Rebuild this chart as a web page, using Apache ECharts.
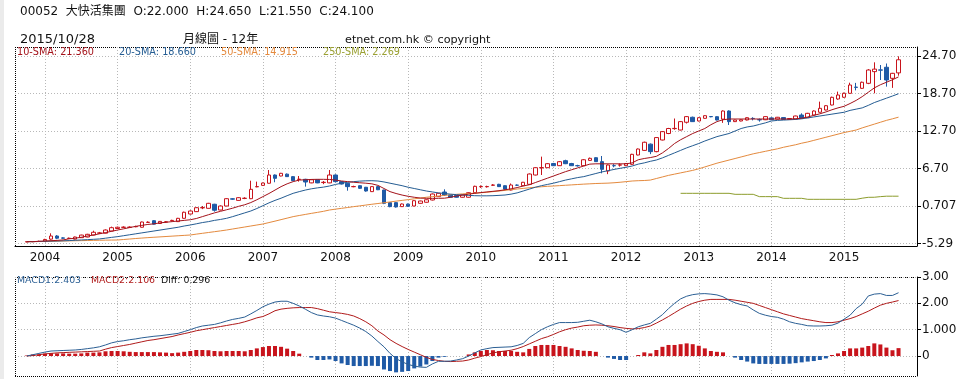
<!DOCTYPE html>
<html><head><meta charset="utf-8">
<script src="https://cdn.jsdelivr.net/npm/echarts@6/dist/echarts.min.js"></script>
<style>html,body{margin:0;padding:0;background:#fff;}#c{width:970px;height:379px;}</style>
</head><body><div id="c"></div>
<script>
// ---- data (monthly, 2003/10 .. 2015/10; index 0 = 2003/10) ----
const openP = [-5.05,-5.0,-4.98,-4.9,-4.6,-4.1,-4.4,-4.5,-4.6,-4.37,
-4.26,-3.94,-3.65,-3.65,-3.3,-2.9,-2.72,-2.72,-2.62,-2.7,
-1.93,-1.65,-2.1,-1.87,-1.65,-1.8,-1.27,-0.58,-0.2,0.4,
0.33,0.98,0.06,0.7,1.85,1.6,1.91,1.87,3.77,4.0,
4.34,5.66,5.5,5.8,5.4,4.95,4.97,4.4,4.9,4.45,
4.4,5.66,4.6,4.34,3.78,3.95,3.7,3.0,3.8,3.26,
1.24,1.24,0.6,1.0,0.7,1.13,1.3,1.66,2.2,2.94,
2.46,2.4,2.1,2.1,2.83,3.78,3.78,4.02,4.17,3.95,
3.26,4.04,3.95,4.17,5.66,6.8,6.83,7.5,7.15,7.95,
7.5,7.16,7.15,8.0,8.43,7.8,6.3,7.16,7.24,7.15,
7.37,8.86,9.6,10.6,9.4,11.26,12.3,13.08,12.86,14.1,
14.9,14.3,14.73,15.02,14.99,14.6,15.9,14.2,14.3,14.46,
14.72,14.52,14.5,14.8,14.6,14.85,14.55,14.62,15.26,14.83,
15.26,15.7,16.06,16.86,17.82,18.1,18.73,19.72,19.53,20.33,
22.2,22.48,22.9,21.13,22.0];
const closeP = [-5.0,-4.98,-4.95,-4.65,-4.1,-4.45,-4.45,-4.45,-4.26,-3.95,
-3.83,-3.5,-3.6,-3.14,-2.77,-2.7,-2.68,-2.68,-2.58,-1.86,
-1.89,-2.2,-1.76,-1.83,-1.6,-1.27,-0.3,-0.1,0.43,0.45,
1.13,0.02,0.7,1.87,1.8,2.03,1.95,3.37,3.81,4.38,
5.66,5.13,5.93,5.4,4.75,4.99,4.54,4.9,4.4,4.5,
5.66,4.6,4.22,3.8,3.82,3.53,3.1,3.8,3.3,1.13,
0.6,0.55,1.02,0.65,1.55,1.5,1.7,2.62,2.73,2.46,
2.1,2.1,2.5,2.83,3.85,3.82,3.82,4.06,3.8,3.4,
4.06,4.02,4.5,5.82,6.83,6.85,7.47,7.15,7.79,7.47,
7.15,7.14,8.1,8.33,7.8,6.57,7.26,7.14,7.28,7.5,
8.97,9.82,10.9,9.4,11.65,12.6,13.1,13.12,14.2,15.0,
14.2,14.83,15.15,14.98,14.46,15.9,14.2,14.46,14.5,14.83,
14.68,14.48,15.0,14.5,14.9,14.55,14.7,15.1,14.73,15.53,
15.9,16.33,16.75,18.09,18.46,18.73,20.06,19.68,20.5,22.46,
22.6,22.44,20.86,21.93,24.1];
const lowP = [-5.1,-5.08,-5.05,-4.95,-4.7,-4.6,-4.55,-4.55,-4.65,-4.4,
-4.3,-4.0,-3.75,-3.7,-3.35,-2.95,-2.8,-2.8,-2.7,-2.75,
-2.0,-2.25,-2.15,-1.95,-1.75,-1.85,-1.3,-0.65,-0.25,0.2,
0.3,-0.2,0.0,0.65,1.7,1.55,1.8,1.8,3.7,3.95,
4.3,4.5,5.45,5.35,4.7,4.6,3.8,4.35,4.35,4.2,
4.35,4.5,4.15,3.15,3.7,3.45,3.0,2.95,3.25,1.0,
0.5,0.45,0.55,0.6,0.65,1.1,1.25,1.6,2.15,2.3,
2.05,2.05,2.05,2.05,2.75,3.6,3.65,3.9,3.75,3.35,
3.2,3.9,3.9,4.1,5.6,5.66,6.8,7.1,7.1,7.4,
7.1,7.0,7.1,7.95,7.75,5.93,5.8,6.9,7.0,7.1,
7.3,8.8,9.55,9.0,9.3,11.2,12.2,12.9,12.8,13.9,
14.15,14.25,14.7,14.9,14.4,14.0,13.66,14.15,14.25,14.4,
14.4,14.2,14.45,14.45,14.55,14.5,14.5,14.55,14.7,14.8,
15.2,15.65,16.0,16.8,17.7,18.0,18.7,19.2,19.45,20.2,
18.73,20.86,19.8,19.6,21.55];
const highP = [-4.95,-4.9,-4.85,-4.55,-3.67,-3.95,-4.3,-4.35,-4.2,-3.9,
-3.75,-3.25,-3.45,-3.05,-2.6,-2.6,-2.55,-2.55,-2.45,-1.8,
-1.75,-1.55,-1.7,-1.7,-1.5,-1.2,-0.2,0.0,0.5,0.7,
1.2,1.05,0.8,1.95,1.95,2.1,2.1,4.75,4.6,4.45,
6.46,5.75,6.0,5.9,5.5,5.5,5.05,5.0,4.95,4.7,
6.46,5.75,4.65,4.4,3.95,4.0,3.75,3.85,3.9,3.3,
1.3,1.3,1.1,1.1,1.6,1.55,1.75,2.7,2.8,3.37,
2.5,2.45,2.55,2.9,3.95,4.0,3.95,4.2,4.25,4.0,
4.3,4.15,4.55,5.9,6.9,8.6,7.55,7.6,7.9,8.1,
7.6,7.3,8.2,8.45,8.5,8.7,7.35,7.4,7.5,7.55,
9.05,9.9,11.0,10.7,11.7,12.7,13.2,14.7,14.3,15.1,
15.0,14.9,15.2,15.1,15.05,16.0,16.0,14.5,14.55,14.9,
14.9,14.7,15.05,14.9,14.95,14.9,14.75,15.15,15.53,15.6,
16.0,17.4,16.85,18.2,19.0,18.85,20.43,20.4,20.6,22.6,
23.69,23.26,23.5,22.0,24.65];
const sma10 = [-5.0,-5.0,-4.95,-4.9,-4.85,-4.8,-4.72,-4.55,-4.45,-4.3,
-4.1,-3.95,-3.75,-3.55,-3.35,-3.14,-2.95,-2.75,-2.55,-2.4,
-2.25,-2.15,-2.0,-1.9,-1.8,-1.7,-1.6,-1.5,-1.3,-1.0,
-0.7,-0.4,-0.15,0.1,0.35,0.65,0.9,1.25,1.7,2.2,
2.7,3.25,3.8,4.25,4.6,4.85,4.9,4.95,4.97,4.97,
4.95,4.85,4.7,4.6,4.5,4.42,4.35,4.25,4.0,3.5,
3.0,2.7,2.45,2.25,2.1,1.97,1.93,1.92,1.93,1.95,
2.1,2.3,2.45,2.6,2.73,2.85,2.95,3.05,3.15,3.3,
3.45,3.65,3.9,4.1,4.45,4.8,5.15,5.5,5.85,6.2,
6.5,6.8,7.1,7.4,7.45,7.45,7.45,7.45,7.45,7.45,
7.6,8.1,8.3,8.45,8.65,9.2,9.9,10.7,11.3,11.8,
12.3,12.7,13.1,13.7,14.2,14.5,14.62,14.62,14.62,14.62,
14.62,14.62,14.62,14.62,14.62,14.62,14.62,14.65,14.75,14.95,
15.2,15.45,15.75,16.1,16.4,16.65,17.1,17.6,18.2,18.9,
19.6,20.1,20.5,20.9,21.36];
const sma20 = [-5.0,-5.0,-4.98,-4.95,-4.92,-4.9,-4.87,-4.83,-4.78,-4.73,
-4.68,-4.63,-4.57,-4.45,-4.32,-4.2,-4.05,-3.9,-3.75,-3.6,
-3.45,-3.3,-3.15,-3.0,-2.85,-2.7,-2.5,-2.34,-2.15,-1.95,
-1.8,-1.6,-1.45,-1.27,-1.0,-0.7,-0.4,-0.1,0.3,0.75,
1.2,1.6,1.95,2.35,2.73,3.0,3.25,3.45,3.6,3.72,
3.9,4.15,4.35,4.5,4.6,4.68,4.73,4.75,4.7,4.55,
4.35,4.15,3.95,3.7,3.5,3.3,3.1,2.95,2.8,2.7,
2.6,2.52,2.45,2.4,2.35,2.33,2.33,2.35,2.4,2.46,
2.6,2.8,3.1,3.4,3.7,3.95,4.15,4.35,4.6,4.85,
5.05,5.25,5.4,5.65,5.9,6.15,6.35,6.55,6.73,6.9,
7.1,7.4,7.6,7.85,8.06,8.4,8.8,9.2,9.6,10.0,
10.35,10.7,11.1,11.45,11.8,12.05,12.3,12.7,13.1,13.35,
13.5,13.75,14.0,14.3,14.4,14.45,14.5,14.55,14.65,14.8,
14.95,15.1,15.25,15.4,15.55,15.7,16.0,16.2,16.4,16.8,
17.25,17.6,17.95,18.3,18.66];
const sma50 = [-5.0,-5.0,-4.98,-4.97,-4.95,-4.93,-4.9,-4.88,-4.86,-4.84,
-4.82,-4.8,-4.78,-4.76,-4.75,-4.74,-4.66,-4.58,-4.5,-4.43,
-4.36,-4.3,-4.24,-4.18,-4.12,-4.06,-4.0,-3.94,-3.8,-3.67,
-3.54,-3.41,-3.28,-3.14,-2.98,-2.82,-2.66,-2.5,-2.34,-2.18,
-1.95,-1.72,-1.48,-1.24,-1.0,-0.82,-0.65,-0.48,-0.32,-0.15,
0.06,0.2,0.33,0.46,0.6,0.72,0.85,0.98,1.1,1.22,
1.35,1.48,1.6,1.72,1.85,1.97,2.1,2.2,2.3,2.4,
2.5,2.57,2.64,2.7,2.75,2.82,2.9,3.0,3.1,3.2,
3.32,3.42,3.52,3.62,3.7,3.78,3.85,3.9,3.96,4.02,
4.08,4.14,4.2,4.25,4.3,4.33,4.36,4.42,4.5,4.6,
4.7,4.75,4.78,4.85,5.1,5.35,5.6,5.8,6.0,6.2,
6.4,6.65,6.95,7.25,7.55,7.8,8.05,8.3,8.55,8.8,
9.05,9.25,9.45,9.65,9.85,10.1,10.3,10.5,10.75,10.95,
11.2,11.45,11.7,11.95,12.2,12.45,12.65,12.86,13.2,13.5,
13.8,14.1,14.4,14.65,14.915];
const sma250 = [null,null,null,null,null,null,null,null,null,null,
null,null,null,null,null,null,null,null,null,null,
null,null,null,null,null,null,null,null,null,null,
null,null,null,null,null,null,null,null,null,null,
null,null,null,null,null,null,null,null,null,null,
null,null,null,null,null,null,null,null,null,null,
null,null,null,null,null,null,null,null,null,null,
null,null,null,null,null,null,null,null,null,null,
null,null,null,null,null,null,null,null,null,null,
null,null,null,null,null,null,null,null,null,null,
null,null,null,null,null,null,null,null,2.73,2.73,
2.73,2.73,2.73,2.73,2.73,2.73,2.73,2.57,2.57,2.57,
2.57,2.2,2.2,2.2,2.2,1.93,1.93,1.93,1.93,1.77,
1.77,1.77,1.77,1.77,1.77,1.77,1.77,1.77,1.95,2.09,
2.1,2.2,2.27,2.27,2.27];
const macd1 = [0.0,0.05,0.1,0.15,0.19,0.2,0.21,0.22,0.23,0.25,
0.28,0.31,0.35,0.42,0.5,0.55,0.58,0.62,0.65,0.69,
0.72,0.75,0.77,0.8,0.83,0.86,0.93,1.0,1.08,1.14,
1.17,1.2,1.26,1.33,1.39,1.43,1.48,1.6,1.73,1.87,
1.97,2.05,2.08,2.08,2.0,1.9,1.78,1.65,1.56,1.52,
1.49,1.44,1.35,1.26,1.17,1.06,0.93,0.76,0.55,0.35,
0.1,-0.1,-0.22,-0.32,-0.38,-0.42,-0.43,-0.3,-0.2,-0.2,
-0.19,-0.15,-0.1,0.0,0.12,0.23,0.28,0.32,0.33,0.34,
0.35,0.4,0.48,0.7,0.85,1.0,1.11,1.2,1.27,1.27,
1.27,1.28,1.32,1.36,1.3,1.22,1.11,1.05,1.0,0.9,
1.0,1.11,1.18,1.24,1.4,1.57,1.8,2.0,2.17,2.27,
2.33,2.36,2.37,2.35,2.32,2.25,2.12,2.02,1.95,1.9,
1.75,1.62,1.55,1.5,1.47,1.4,1.3,1.24,1.2,1.15,
1.14,1.14,1.15,1.17,1.25,1.4,1.55,1.8,1.97,2.28,
2.35,2.37,2.3,2.3,2.403];
const macd2 = [0.0,0.02,0.05,0.08,0.1,0.12,0.13,0.14,0.15,0.16,
0.17,0.18,0.19,0.26,0.32,0.36,0.4,0.44,0.49,0.54,
0.59,0.62,0.66,0.7,0.74,0.8,0.85,0.9,0.96,1.0,
1.04,1.08,1.12,1.16,1.2,1.24,1.3,1.37,1.45,1.5,
1.6,1.72,1.78,1.81,1.83,1.84,1.84,1.84,1.8,1.74,
1.68,1.65,1.62,1.58,1.52,1.42,1.3,1.15,0.95,0.8,
0.62,0.48,0.36,0.25,0.15,0.05,-0.05,-0.13,-0.17,-0.2,
-0.21,-0.2,-0.19,-0.15,-0.08,-0.02,0.05,0.12,0.16,0.19,
0.22,0.28,0.36,0.46,0.56,0.66,0.73,0.82,0.92,1.0,
1.06,1.1,1.15,1.17,1.18,1.17,1.15,1.12,1.08,1.05,
1.03,1.04,1.08,1.14,1.25,1.37,1.5,1.64,1.78,1.9,
2.0,2.07,2.12,2.15,2.15,2.15,2.15,2.12,2.08,2.04,
2.0,1.92,1.84,1.76,1.68,1.6,1.54,1.48,1.42,1.38,
1.34,1.3,1.27,1.27,1.3,1.36,1.42,1.5,1.6,1.7,
1.82,1.93,2.0,2.05,2.106];
const macdDiff = [0.02,0.06,0.06,0.09,0.11,0.1,0.1,0.09,0.09,0.1,
0.13,0.13,0.14,0.18,0.19,0.19,0.18,0.16,0.15,0.15,
0.15,0.15,0.14,0.13,0.11,0.13,0.16,0.19,0.23,0.23,
0.22,0.19,0.18,0.19,0.19,0.19,0.18,0.23,0.29,0.34,
0.38,0.38,0.35,0.28,0.19,0.09,0.0,-0.06,-0.15,-0.15,
-0.13,-0.19,-0.28,-0.34,-0.38,-0.38,-0.38,-0.37,-0.38,-0.51,
-0.57,-0.62,-0.6,-0.57,-0.47,-0.4,-0.32,-0.19,-0.06,-0.03,
0.0,0.0,0.0,0.06,0.14,0.19,0.23,0.22,0.19,0.19,
0.19,0.16,0.14,0.27,0.38,0.42,0.42,0.42,0.38,0.35,
0.29,0.23,0.2,0.19,0.16,0.0,-0.06,-0.11,-0.15,-0.15,
0.0,0.04,0.14,0.1,0.23,0.35,0.42,0.42,0.45,0.48,
0.45,0.39,0.29,0.19,0.16,0.14,0.0,-0.06,-0.15,-0.21,
-0.28,-0.3,-0.3,-0.3,-0.3,-0.3,-0.29,-0.27,-0.24,-0.21,
-0.19,-0.15,-0.09,0.04,0.1,0.19,0.29,0.29,0.32,0.38,
0.48,0.44,0.32,0.22,0.3];
const yearTicks = [3,15,27,39,51,63,75,87,99,111,123,135];
const yearLabels = ['2004','2005','2006','2007','2008','2009','2010','2011','2012','2013','2014','2015'];
const priceTicks = [-5.29,0.707,6.70,12.70,18.70,24.70];
const priceTickLabels = ['-5.29','0.707','6.70','12.70','18.70','24.70'];
const macdTicks = [0,1,2,3];
const macdTickLabels = ['0','1.000','2.00','3.00'];

// ---- chart ----
const C_UP = '#c8141c', C_DN = '#1f5aa6';
const C10 = '#a3121a', C20 = '#245c92', C50 = '#e48a3e', C250 = '#8c9c2c';
const FONT = '"DejaVu Sans", "Noto Sans CJK TC", sans-serif';
function pick(ticks, labels){ return v => { for (let k=0;k<ticks.length;k++) if (Math.abs(ticks[k]-v)<1e-6) return labels[k]; return ''; }; }
const idx = openP.map((_, i) => i);
const pair = arr => idx.map(i => [i, arr[i]]);
const gridSplit = {show:true, lineStyle:{color:'#b8b8b8', type:[1,2], width:1}};

const chart = echarts.init(document.getElementById('c'), null, {renderer:'canvas'});
chart.setOption({
  animation:false,
  backgroundColor:'#ffffff',
  grid:[{left:15, top:47, width:902, height:199},{left:15, top:277, width:902, height:99}],
  xAxis:[
    {gridIndex:0, type:'value', min:-1.95, max:147.05,
     axisLine:{show:true, onZero:false, lineStyle:{color:'#000', width:1}},
     axisTick:{show:false, customValues:yearTicks},
     axisLabel:{customValues:yearTicks, formatter:pick(yearTicks, yearLabels), color:'#111', fontSize:12, fontFamily:FONT, margin:6},
     splitLine:gridSplit},
    {gridIndex:1, type:'value', min:-1.95, max:147.05,
     axisLine:{show:false, onZero:false}, axisTick:{show:false, customValues:yearTicks},
     axisLabel:{show:false, customValues:yearTicks}, splitLine:gridSplit}
  ],
  yAxis:[
    {gridIndex:0, type:'value', position:'right', min:-5.70, max:26.14,
     axisLine:{show:true, onZero:false, lineStyle:{color:'#000', width:1}},
     axisTick:{show:true, inside:false, length:4, customValues:priceTicks, lineStyle:{color:'#000'}},
     axisLabel:{customValues:priceTicks, formatter:pick(priceTicks, priceTickLabels), color:'#111', fontSize:12, fontFamily:FONT, margin:5},
     splitLine:gridSplit},
    {gridIndex:1, type:'value', position:'right', min:-0.758, max:3.0,
     axisLine:{show:true, onZero:false, lineStyle:{color:'#000', width:1}},
     axisTick:{show:true, inside:false, length:4, customValues:macdTicks, lineStyle:{color:'#000'}},
     axisLabel:{customValues:macdTicks, formatter:pick(macdTicks, macdTickLabels), color:'#111', fontSize:12, fontFamily:FONT, margin:5},
     splitLine:gridSplit}
  ],
  series:[
    {type:'candlestick', xAxisIndex:0, yAxisIndex:0, barWidth:4, large:false,
     data: idx.map(i => [i, openP[i], closeP[i], lowP[i], highP[i]]),
     itemStyle:{color:'#ffffff', color0:C_DN, borderColor:C_UP, borderColor0:C_DN, borderWidth:1}},
    {type:'line', xAxisIndex:0, yAxisIndex:0, data:pair(sma50), symbol:'none', lineStyle:{color:C50, width:1}},
    {type:'line', xAxisIndex:0, yAxisIndex:0, data:pair(sma250), symbol:'none', connectNulls:false, lineStyle:{color:C250, width:1}},
    {type:'line', xAxisIndex:0, yAxisIndex:0, data:pair(sma20), symbol:'none', lineStyle:{color:C20, width:1}},
    {type:'line', xAxisIndex:0, yAxisIndex:0, data:pair(sma10), symbol:'none', lineStyle:{color:C10, width:1}},
    {type:'bar', xAxisIndex:1, yAxisIndex:1, barWidth:4, data:pair(macdDiff),
     itemStyle:{color: p => p.value[1] >= 0 ? '#c8141c' : '#1f5aa6'}},
    {type:'line', xAxisIndex:1, yAxisIndex:1, data:pair(macd2), symbol:'none', lineStyle:{color:'#b01a1a', width:1}},
    {type:'line', xAxisIndex:1, yAxisIndex:1, data:pair(macd1), symbol:'none', lineStyle:{color:'#2b5f94', width:1}}
  ],
  graphic:[
    {type:'rect', shape:{x:0,y:0,width:4,height:379}, style:{fill:'#ebebeb'}, silent:true},
    {type:'text', x:20, y:12, style:{text:'00052  大快活集團  O:22.000  H:24.650  L:21.550  C:24.100', font:'12px '+FONT, fill:'#111', verticalAlign:'middle'}},
    {type:'text', x:20, y:40, style:{text:'2015/10/28', font:'13px '+FONT, fill:'#111', verticalAlign:'middle'}},
    {type:'text', x:183, y:40, style:{text:'月線圖 - 12年', font:'12px '+FONT, fill:'#111', verticalAlign:'middle'}},
    {type:'text', x:345, y:40, style:{text:'etnet.com.hk © copyright', font:'11.2px '+FONT, fill:'#111', verticalAlign:'middle'}},
    {type:'line', shape:{x1:15,y1:47.5,x2:917,y2:47.5}, style:{stroke:'#000', lineWidth:1, lineDash:[1,1]}},
    {type:'line', shape:{x1:15.5,y1:47,x2:15.5,y2:246}, style:{stroke:'#000', lineWidth:1, lineDash:[1,1]}},
    {type:'line', shape:{x1:15,y1:277.5,x2:917,y2:277.5}, style:{stroke:'#000', lineWidth:1, lineDash:[1,1]}},
    {type:'line', shape:{x1:15.5,y1:277,x2:15.5,y2:376}, style:{stroke:'#000', lineWidth:1, lineDash:[1,1]}},
    {type:'line', shape:{x1:15,y1:376.5,x2:917,y2:376.5}, style:{stroke:'#000', lineWidth:1, lineDash:[1,1]}},
    {type:'text', x:17, y:52, style:{text:'10-SMA: 21.360', font:'9.7px '+FONT, fill:C10, verticalAlign:'middle'}},
    {type:'text', x:119, y:52, style:{text:'20-SMA: 18.660', font:'9.7px '+FONT, fill:C20, verticalAlign:'middle'}},
    {type:'text', x:221, y:52, style:{text:'50-SMA: 14.915', font:'9.7px '+FONT, fill:C50, verticalAlign:'middle'}},
    {type:'text', x:323, y:52, style:{text:'250-SMA: 2.269', font:'9.7px '+FONT, fill:'#9aa032', verticalAlign:'middle'}},
    {type:'text', x:17, y:281, style:{text:'MACD1:2.403', font:'9.4px '+FONT, fill:'#2b5f94', verticalAlign:'middle'}},
    {type:'text', x:91, y:281, style:{text:'MACD2:2.106', font:'9.4px '+FONT, fill:'#b01a1a', verticalAlign:'middle'}},
    {type:'text', x:161, y:281, style:{text:'Diff: 0.296', font:'9.4px '+FONT, fill:'#111', verticalAlign:'middle'}}
  ]
});
</script></body></html>
